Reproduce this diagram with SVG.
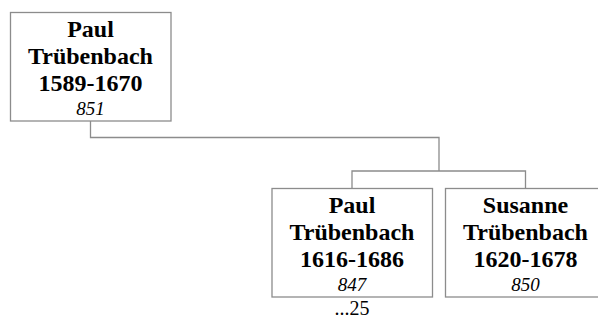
<svg xmlns="http://www.w3.org/2000/svg" width="598" height="320" viewBox="0 0 598 320">
<style>
.box{fill:#fff;stroke:#8c8c8c;stroke-width:1.3}
.n{font-family:"Liberation Serif","Times New Roman",serif;font-weight:bold;font-size:24px;text-anchor:middle;fill:#000}
.i{font-family:"Liberation Serif","Times New Roman",serif;font-style:italic;font-size:19px;text-anchor:middle;fill:#000}
.t{font-family:"Liberation Serif","Times New Roman",serif;font-size:20px;text-anchor:middle;fill:#000}
.c{fill:none;stroke:#8c8c8c;stroke-width:1.3}
</style>
<rect width="598" height="320" fill="#fff"/>
<g id="connectors">
<path class="c" d="M90.5,121 V137.5 H439 V171 M352,188 V171 H525.5 V188"/>
</g>
<g id="n851">
<rect class="box" x="10.5" y="12.5" width="160.5" height="108.5"/>
<text class="n" x="90.5" y="36.5">Paul</text>
<text class="n" x="90.5" y="63.5">Trübenbach</text>
<text class="n" x="90.5" y="90.5">1589-1670</text>
<text class="i" x="90.5" y="115">851</text>
</g>
<g id="n847">
<rect class="box" x="272" y="188.5" width="160.5" height="108.5"/>
<text class="n" x="352" y="212.5">Paul</text>
<text class="n" x="352" y="239.5">Trübenbach</text>
<text class="n" x="352" y="266.5">1616-1686</text>
<text class="i" x="352" y="291">847</text>
<text class="t" x="352" y="315">...25</text>
</g>
<g id="n850">
<rect class="box" x="445.5" y="188.5" width="160.5" height="108.5"/>
<text class="n" x="525.5" y="212.5">Susanne</text>
<text class="n" x="525.5" y="239.5">Trübenbach</text>
<text class="n" x="525.5" y="266.5">1620-1678</text>
<text class="i" x="525.5" y="291">850</text>
</g>
</svg>
